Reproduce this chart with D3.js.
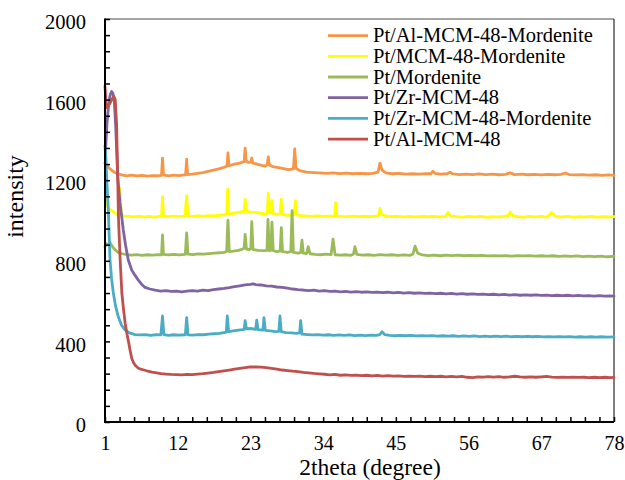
<!DOCTYPE html>
<html>
<head>
<meta charset="utf-8">
<script src="https://cdn.jsdelivr.net/npm/d3@7"></script>
<style>
  html, body { margin: 0; padding: 0; background: #fff; }
  svg { display: block; }
</style>
</head>
<body>
<svg id="chart" width="625" height="480"></svg>
<script>
// ---------------- DATA ----------------
const seriesNames = [
  "Pt/Al-MCM-48-Mordenite",
  "Pt/MCM-48-Mordenite",
  "Pt/Mordenite",
  "Pt/Zr-MCM-48",
  "Pt/Zr-MCM-48-Mordenite",
  "Pt/Al-MCM-48"
];
const seriesColors = ["#F79646", "#FFFF00", "#9BBB59", "#8064A2", "#4BACC6", "#C0504D"];

const xTickLabels = [1, 12, 23, 34, 45, 56, 67, 78];
const yTickLabels = [0, 400, 800, 1200, 1600, 2000];

// [2theta, intensity]
const ptAlMcmMord = [[1.0,1285],[1.3,1272],[1.8,1255],[2.5,1238],[3.5,1226],[4.3,1222],[5.0,1225],[5.8,1221],[6.6,1224],[7.4,1220],[8.2,1223],[9.0,1222],[9.55,1224],[9.7,1310],[9.85,1226],[10.6,1222],[11.4,1225],[12.2,1223],[13.0,1226],[13.2,1228],[13.35,1305],[13.5,1228],[14.2,1230],[15.0,1234],[15.8,1238],[16.6,1244],[17.4,1250],[18.2,1256],[19.0,1264],[19.45,1270],[19.6,1336],[19.75,1272],[20.4,1278],[21.2,1283],[21.8,1290],[22.05,1292],[22.2,1359],[22.35,1295],[22.7,1288],[23.05,1290],[23.2,1310],[23.35,1285],[24.0,1280],[24.7,1274],[25.3,1270],[25.55,1278],[25.7,1316],[25.85,1276],[26.5,1266],[27.3,1262],[28.0,1258],[28.8,1252],[29.5,1256],[29.7,1355],[29.9,1258],[30.6,1246],[31.5,1240],[32.5,1238],[33.5,1236],[34.5,1234],[35.5,1236],[36.5,1233],[37.5,1235],[38.5,1232],[39.5,1234],[40.5,1232],[41.5,1234],[42.3,1240],[42.6,1285],[42.9,1250],[43.5,1236],[44.5,1232],[45.5,1234],[46.5,1230],[47.5,1232],[48.5,1230],[49.5,1233],[50.3,1232],[50.6,1244],[50.9,1234],[51.8,1230],[52.8,1232],[53.2,1240],[53.6,1231],[54.6,1228],[55.6,1230],[56.6,1228],[57.6,1231],[58.6,1228],[59.6,1230],[60.6,1227],[61.6,1229],[62.3,1236],[63.0,1228],[64.0,1230],[65.0,1227],[66.0,1229],[67.0,1226],[68.0,1229],[69.0,1227],[70.0,1229],[70.6,1236],[71.2,1228],[72.2,1226],[73.2,1228],[74.2,1225],[75.2,1227],[76.2,1224],[77.2,1226],[78.0,1224]];

const ptMcmMord = [[1.0,1110],[1.15,1095],[1.4,1070],[1.7,1055],[2.0,1050],[2.4,1040],[2.8,1030],[3.05,1035],[3.25,1160],[3.45,1035],[3.8,1022],[4.5,1020],[5.3,1018],[6.1,1021],[6.9,1018],[7.7,1020],[8.5,1017],[9.2,1020],[9.55,1020],[9.7,1118],[9.85,1021],[10.6,1019],[11.4,1022],[12.2,1019],[13.1,1022],[13.35,1123],[13.55,1022],[14.3,1020],[15.1,1023],[15.9,1020],[16.7,1024],[17.5,1023],[18.3,1026],[19.0,1028],[19.4,1030],[19.55,1156],[19.7,1032],[20.4,1036],[21.2,1040],[21.8,1046],[22.05,1044],[22.2,1106],[22.4,1046],[23.0,1042],[23.8,1040],[24.6,1036],[25.4,1032],[25.55,1036],[25.7,1136],[25.9,1040],[26.1,1038],[26.25,1098],[26.4,1034],[27.2,1030],[27.5,1032],[27.65,1106],[27.8,1030],[28.6,1026],[29.4,1027],[29.65,1030],[29.8,1097],[29.95,1028],[30.7,1024],[31.5,1022],[32.3,1020],[33.1,1023],[33.9,1020],[34.7,1022],[35.5,1021],[35.75,1023],[35.9,1088],[36.05,1022],[36.8,1020],[37.6,1019],[38.5,1022],[39.4,1019],[40.3,1021],[41.2,1019],[42.1,1022],[42.4,1026],[42.6,1060],[42.85,1030],[43.5,1021],[44.4,1019],[45.3,1021],[46.2,1018],[47.1,1020],[48.0,1018],[48.9,1021],[49.8,1019],[50.7,1020],[51.6,1018],[52.5,1021],[52.9,1040],[53.3,1022],[54.2,1019],[55.1,1017],[56.0,1020],[56.9,1018],[57.8,1020],[58.7,1017],[59.6,1019],[60.5,1018],[61.4,1020],[62.0,1024],[62.3,1042],[62.6,1024],[63.4,1019],[64.3,1017],[65.2,1020],[66.1,1018],[67.0,1020],[67.9,1017],[68.6,1040],[69.2,1020],[70.1,1018],[71.0,1020],[71.9,1017],[72.8,1019],[73.7,1018],[74.6,1020],[75.5,1017],[76.4,1019],[77.3,1018],[78.0,1019]];

const ptMord = [[1.0,870],[1.2,885],[1.5,880],[1.8,888],[2.1,872],[2.5,855],[3.0,842],[3.6,835],[4.3,830],[5.0,828],[5.8,831],[6.6,827],[7.4,830],[8.2,828],[9.0,831],[9.55,830],[9.7,928],[9.85,832],[10.6,829],[11.4,832],[12.2,829],[13.15,832],[13.35,939],[13.55,833],[14.3,831],[15.1,834],[15.9,833],[16.7,836],[17.5,838],[18.3,840],[19.0,842],[19.4,846],[19.6,1002],[19.8,846],[20.4,848],[21.2,852],[21.8,858],[22.05,862],[22.2,931],[22.4,858],[22.9,856],[23.05,860],[23.2,994],[23.4,856],[24.2,852],[25.0,850],[25.5,852],[25.65,1006],[25.85,850],[26.1,852],[26.25,992],[26.45,850],[27.0,846],[27.5,848],[27.67,964],[27.85,845],[28.6,842],[29.1,845],[29.3,1049],[29.5,842],[30.2,838],[30.6,840],[30.8,903],[31.0,838],[31.5,836],[31.75,870],[32.0,835],[32.8,832],[33.6,830],[34.4,833],[35.2,831],[35.5,908],[35.8,830],[36.6,828],[37.4,830],[38.2,827],[38.6,834],[38.8,870],[39.1,832],[39.9,828],[40.8,830],[41.7,827],[42.6,831],[43.5,828],[44.4,830],[45.3,827],[46.2,829],[47.1,827],[47.6,834],[47.9,873],[48.3,838],[49.0,829],[49.9,826],[50.8,828],[51.7,825],[52.6,828],[53.5,826],[54.4,828],[55.3,825],[56.2,827],[57.1,825],[58.0,827],[58.9,824],[59.8,826],[60.7,824],[61.6,826],[62.5,823],[63.4,826],[64.3,824],[65.2,826],[66.1,823],[67.0,825],[67.9,823],[68.8,825],[69.7,822],[70.6,824],[71.5,822],[72.4,824],[73.3,821],[74.2,823],[75.1,821],[76.0,823],[76.9,820],[78.0,822]];

const ptZrMcm = [[1.05,1330],[1.3,1480],[1.55,1580],[1.8,1625],[2.0,1640],[2.2,1630],[2.4,1598],[2.62,1466],[2.92,1218],[3.27,1087],[3.77,953],[4.1,880],[4.52,804],[5.04,754],[5.5,730],[6.04,704],[6.5,685],[7.05,668],[7.8,660],[8.6,654],[9.4,650],[10.2,652],[11.0,648],[11.8,650],[12.6,646],[13.4,649],[14.2,652],[15.0,650],[15.8,654],[16.6,652],[17.4,657],[18.2,660],[19.0,663],[19.8,667],[20.6,672],[21.4,676],[22.2,680],[23.0,683],[23.4,686],[23.8,682],[24.6,680],[25.4,676],[26.2,674],[27.0,670],[27.8,668],[28.6,664],[29.4,660],[30.2,657],[31.0,655],[31.8,652],[32.6,654],[33.4,650],[34.2,652],[35.0,648],[35.8,650],[36.6,646],[37.4,648],[38.2,645],[39.0,647],[39.8,644],[40.6,646],[41.4,643],[42.2,645],[43.0,642],[43.8,644],[44.6,641],[45.4,643],[46.2,640],[47.0,642],[47.8,639],[48.6,641],[49.4,638],[50.2,640],[51.0,637],[51.8,639],[52.6,636],[53.4,638],[54.2,635],[55.0,637],[55.8,634],[56.6,636],[57.4,633],[58.2,635],[59.0,632],[59.8,634],[60.6,631],[61.4,633],[62.2,630],[63.0,632],[63.8,629],[64.6,631],[65.4,629],[66.2,631],[67.0,628],[67.8,630],[68.6,627],[69.4,629],[70.2,627],[71.0,629],[71.8,626],[72.6,628],[73.4,626],[74.2,627],[75.0,625],[75.8,627],[76.6,625],[77.4,626],[78.0,625]];

const ptZrMcmMord = [[1.0,1370],[1.15,1300],[1.3,1180],[1.5,1052],[1.76,804],[2.0,710],[2.26,640],[2.6,575],[3.01,522],[3.5,480],[4.03,457],[4.7,442],[5.54,434],[6.3,432],[7.1,434],[7.9,430],[8.7,433],[9.45,432],[9.7,526],[9.9,434],[10.6,430],[11.4,433],[12.2,431],[13.15,433],[13.36,518],[13.55,432],[14.3,431],[15.1,434],[15.9,433],[16.7,436],[17.5,438],[18.3,440],[19.0,444],[19.35,446],[19.5,526],[19.7,448],[20.4,452],[21.2,456],[21.8,458],[22.05,460],[22.2,503],[22.4,462],[23.0,464],[23.8,460],[23.95,506],[24.15,458],[24.9,456],[25.05,518],[25.25,455],[26.0,452],[26.8,448],[27.3,450],[27.47,526],[27.65,448],[28.4,444],[29.2,442],[30.0,440],[30.45,442],[30.6,503],[30.8,436],[31.6,434],[32.4,432],[33.2,434],[34.0,431],[34.8,433],[35.6,430],[36.4,432],[37.2,430],[38.0,432],[38.8,429],[39.6,431],[40.4,429],[41.2,431],[42.0,430],[42.6,434],[42.9,448],[43.3,434],[44.1,430],[44.9,428],[45.7,430],[46.5,428],[47.3,430],[48.1,427],[48.9,429],[49.7,427],[50.5,429],[51.3,426],[52.1,428],[52.9,426],[53.7,428],[54.5,425],[55.3,427],[56.1,425],[56.9,427],[57.7,424],[58.5,426],[59.3,424],[60.1,426],[60.9,424],[61.7,426],[62.5,423],[63.3,425],[64.1,423],[64.9,425],[65.7,423],[66.5,425],[67.3,422],[68.1,424],[68.9,422],[69.7,424],[70.5,422],[71.3,424],[72.1,421],[72.9,423],[73.7,421],[74.5,423],[75.3,421],[76.1,423],[76.9,421],[78.0,422]];

const ptAlMcm = [[1.0,1665],[1.2,1560],[1.5,1570],[1.8,1585],[2.1,1605],[2.35,1615],[2.55,1600],[2.75,1480],[2.9,1250],[3.05,1000],[3.3,800],[3.55,640],[3.8,560],[4.05,490],[4.3,440],[4.55,400],[4.8,355],[5.05,315],[5.3,295],[5.6,280],[6.0,268],[6.4,262],[6.9,258],[7.5,252],[8.1,248],[8.8,244],[9.5,240],[10.2,238],[11.0,236],[11.8,235],[12.6,234],[13.4,236],[14.2,235],[15.0,238],[15.8,240],[16.6,243],[17.4,246],[18.2,250],[19.0,254],[19.8,258],[20.6,262],[21.4,266],[22.2,270],[23.0,274],[23.8,273],[24.6,272],[25.4,270],[26.2,266],[27.0,262],[27.8,258],[28.6,255],[29.4,252],[30.2,250],[31.0,246],[31.8,244],[32.6,241],[33.4,239],[34.2,237],[35.0,234],[35.8,236],[36.6,232],[37.4,234],[38.2,231],[39.0,233],[39.8,230],[40.6,232],[41.4,229],[42.2,231],[43.0,228],[43.8,230],[44.6,228],[45.4,229],[46.2,226],[47.0,228],[47.8,226],[48.6,228],[49.4,225],[50.2,227],[51.0,225],[51.8,227],[52.6,224],[53.4,226],[54.2,224],[55.0,226],[55.8,222],[56.6,220],[57.4,224],[58.2,223],[59.0,225],[59.8,223],[60.6,225],[61.4,222],[62.2,224],[63.0,227],[63.8,224],[64.6,222],[65.4,224],[66.2,222],[67.0,224],[67.8,226],[68.6,223],[69.4,221],[70.2,223],[71.0,221],[71.8,223],[72.6,221],[73.4,222],[74.2,220],[75.0,222],[75.8,220],[76.6,222],[77.4,220],[78.0,221]];

const seriesValues = [ptAlMcmMord, ptMcmMord, ptMord, ptZrMcm, ptZrMcmMord, ptAlMcm];

// ---------------- CHART ----------------
const FONT = '"Liberation Serif", "Tinos", "Times New Roman"';
const svg = d3.select("#chart");
const pL = 105, pR = 614, pT = 19, pB = 422;

const x = d3.scaleLinear().domain([1, 78]).range([pL, pR]);
const y = d3.scaleLinear().domain([0, 2000]).range([pB, pT]);

svg.append("rect").attr("width", 625).attr("height", 480).attr("fill", "#fff");

// frame: top grey, right black
svg.append("line").attr("x1", pL).attr("x2", pR).attr("y1", pT).attr("y2", pT)
  .attr("stroke", "#868686").attr("stroke-width", 1.5);
svg.append("line").attr("x1", pR).attr("x2", pR).attr("y1", pT).attr("y2", pB)
  .attr("stroke", "#000").attr("stroke-width", 1);

// series lines
const line = d3.line().x(d => x(d[0])).y(d => y(d[1]));
seriesValues.forEach((vals, i) => {
  svg.append("path").datum(vals)
    .attr("d", line)
    .attr("fill", "none")
    .attr("stroke", seriesColors[i])
    .attr("stroke-width", 2.8)
    .attr("stroke-linejoin", "round")
    .attr("stroke-linecap", "round");
});

// y axis minor/major ticks (inward)
const yTicks = d3.range(0, 2001, 80);
const yAxisTicks = svg.append("g").attr("transform", `translate(${pL},0)`)
  .call(d3.axisLeft(y).tickValues(yTicks).tickSize(-5).tickFormat(""));
yAxisTicks.select(".domain").remove();
yAxisTicks.selectAll(".tick line").attr("stroke", "#000").attr("stroke-width", 1.5);

const yAxisLabels = svg.append("g").attr("transform", `translate(${pL},0)`)
  .call(d3.axisLeft(y).tickValues(yTickLabels).tickSize(0).tickPadding(19).tickFormat(d3.format("d")));
yAxisLabels.attr("font-family", null).attr("font-size", null);
yAxisLabels.select(".domain").remove();
yAxisLabels.selectAll(".tick text")
  .style("font-family", FONT).style("font-size", "20.5px")
  .attr("fill", "#000").attr("dy", "0.47em");

// x axis ticks (inward)
const xTicks = d3.range(0, 36).map(i => 1 + i * 2.2);
const xAxisTicks = svg.append("g").attr("transform", `translate(0,${pB})`)
  .call(d3.axisBottom(x).tickValues(xTicks).tickSize(-5).tickFormat(""));
xAxisTicks.select(".domain").remove();
xAxisTicks.selectAll(".tick line").attr("stroke", "#000").attr("stroke-width", 1.5);

const xAxisLabels = svg.append("g").attr("transform", `translate(0,${pB})`)
  .call(d3.axisBottom(x).tickValues(xTickLabels).tickSize(0).tickPadding(13.5).tickFormat(d3.format("d")));
xAxisLabels.attr("font-family", null).attr("font-size", null);
xAxisLabels.select(".domain").remove();
xAxisLabels.selectAll(".tick text")
  .style("font-family", FONT).style("font-size", "20px").attr("fill", "#000");

// axis lines
svg.append("line").attr("x1", pL).attr("x2", pL).attr("y1", pT - 0.5).attr("y2", pB + 1)
  .attr("stroke", "#000").attr("stroke-width", 2);
svg.append("line").attr("x1", pL - 1).attr("x2", pR).attr("y1", pB).attr("y2", pB)
  .attr("stroke", "#000").attr("stroke-width", 2);

// axis titles
svg.append("text")
  .attr("transform", "translate(22.5,196.5) rotate(-90)")
  .attr("text-anchor", "middle")
  .style("font-family", FONT).style("font-size", "24px")
  .text("intensity");
svg.append("text")
  .attr("x", 370).attr("y", 474.8)
  .attr("text-anchor", "middle")
  .style("font-family", FONT).style("font-size", "23.5px")
  .text("2theta (degree)");

// legend
const legend = svg.append("g");
seriesNames.forEach((name, i) => {
  const ly = 35.6 + i * 20.7;
  legend.append("line").attr("x1", 328).attr("x2", 368).attr("y1", ly).attr("y2", ly)
    .attr("stroke", seriesColors[i]).attr("stroke-width", 2.8);
  legend.append("text").attr("x", 373).attr("y", ly).attr("dy", "0.33em")
    .style("font-family", FONT).style("font-size", "20.5px")
    .attr("fill", "#000").text(name);
});
</script>
</body>
</html>
